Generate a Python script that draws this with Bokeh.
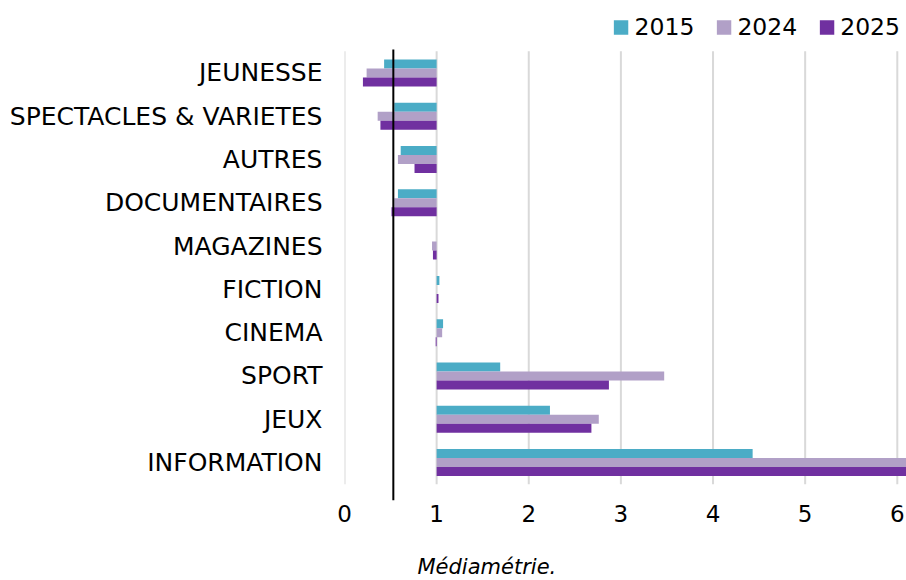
from bokeh.plotting import figure
from bokeh.models import (Range1d, FixedTicker, Legend, LegendItem, Title,
                          ColumnDataSource)
from bokeh.embed import file_html
from bokeh.resources import INLINE

# ---- data (top to bottom) ----
categories = ["JEUNESSE", "SPECTACLES & VARIETES", "AUTRES", "DOCUMENTAIRES",
              "MAGAZINES", "FICTION", "CINEMA", "SPORT", "JEUX", "INFORMATION"]
v2015 = [0.43, 0.54, 0.61, 0.58, 1.00, 1.03, 1.07, 1.69, 2.23, 4.43]
v2024 = [0.24, 0.36, 0.58, 0.54, 0.95, 1.00, 1.06, 3.47, 2.76, 6.40]
v2025 = [0.20, 0.39, 0.76, 0.51, 0.96, 1.02, 0.99, 2.87, 2.68, 6.40]
series_names = ["2015", "2024", "2025"]
x_ticks = [0, 1, 2, 3, 4, 5, 6]
base_value = 1.0
ref_value = 0.53
source_text = "Médiamétrie."

colors = ["#4BACC6", "#B1A0C7", "#7030A0"]
FONT = "DejaVu Sans"

n = len(categories)
ypos = [n - 1 - i for i in range(n)]
y_lo, y_hi = -0.878, 10.513

p = figure(width=906, height=580, output_backend="svg", toolbar_location=None,
           x_range=Range1d(0, 6.10), y_range=Range1d(y_lo, y_hi),
           min_border_left=344, min_border_right=0, min_border_top=7,
           min_border_bottom=80)
p.outline_line_color = None
p.grid.visible = False
p.background_fill_color = "white"
p.border_fill_color = "white"

# gridlines
p.segment(x0=x_ticks, x1=x_ticks, y0=[-0.5] * len(x_ticks), y1=[n - 0.5] * len(x_ticks),
          line_color="#d9d9d9", line_width=2, level="underlay")

bar_h = 0.208
offsets = [bar_h, 0.0, -bar_h]
renderers = []
for vals, off, col in zip([v2015, v2024, v2025], offsets, colors):
    src = ColumnDataSource(dict(y=[y + off for y in ypos], right=vals,
                                left=[base_value] * n))
    r = p.hbar(y="y", left="left", right="right", height=bar_h, source=src,
               fill_color=col, line_color=None)
    renderers.append(r)

# reference line
p.segment(x0=[ref_value], x1=[ref_value], y0=[y_lo], y1=[n - 0.457],
          line_color="black", line_width=2)

# axes
p.xaxis.ticker = FixedTicker(ticks=x_ticks)
p.xaxis.axis_line_color = None
p.xaxis.major_tick_line_color = None
p.xaxis.minor_tick_line_color = None
p.xaxis.major_label_text_font = FONT
p.xaxis.major_label_text_font_size = "23px"
p.xaxis.major_label_text_color = "black"
p.xaxis.major_label_standoff = -2

p.yaxis.ticker = FixedTicker(ticks=ypos)
p.yaxis.major_label_overrides = {y: c for y, c in zip(ypos, categories)}
p.yaxis.axis_line_color = None
p.yaxis.major_tick_line_color = None
p.yaxis.minor_tick_line_color = None
p.yaxis.major_label_text_font = FONT
p.yaxis.major_label_text_font_size = "25px"
p.yaxis.major_label_text_color = "black"
p.yaxis.major_label_standoff = 16

legend = Legend(items=[LegendItem(label=s, renderers=[r]) for s, r in zip(series_names, renderers)],
                orientation="horizontal", location="top_right",
                glyph_width=18, glyph_height=18, label_standoff=5, spacing=20,
                padding=0, margin=6, border_line_color=None,
                background_fill_alpha=0,
                label_text_font=FONT, label_text_font_size="23.5px",
                label_text_color="black")
p.add_layout(legend, "center")

cap = Title(text="\n" + source_text, align="left", offset=73, text_font=FONT,
            text_font_style="italic", text_font_size="21px",
            text_color="black", standoff=-15, vertical_align="bottom",
            text_line_height=1.5)
p.add_layout(cap, "below")

open("out.html", "w").write(file_html(p, INLINE))
